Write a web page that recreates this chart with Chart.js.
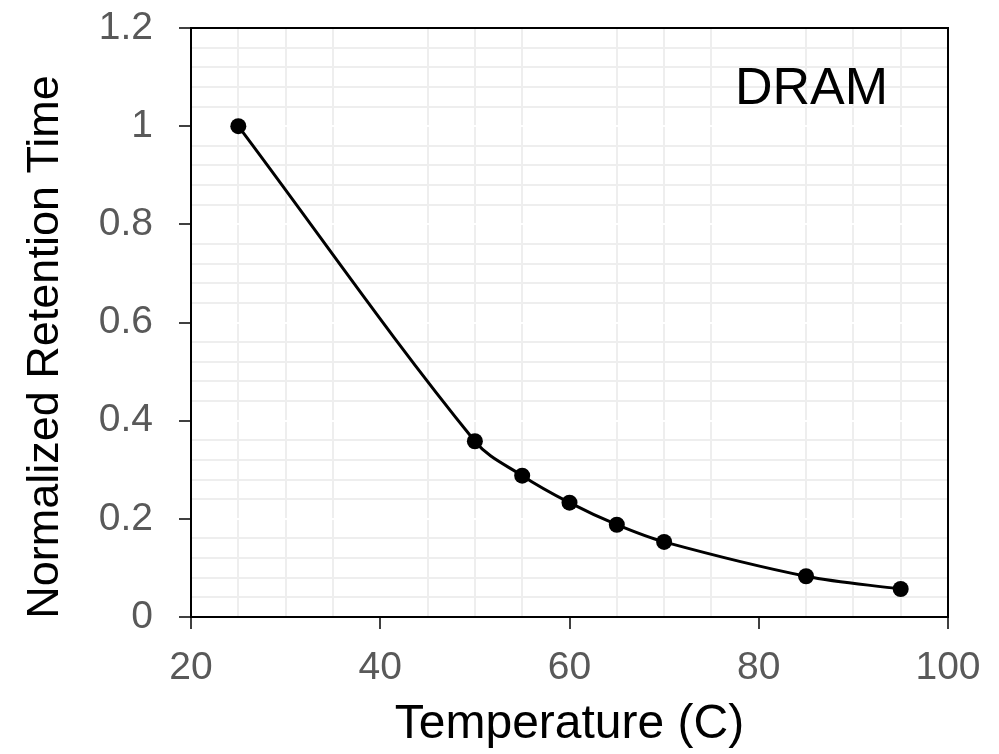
<!DOCTYPE html>
<html>
<head>
<meta charset="utf-8">
<script src="https://cdn.jsdelivr.net/npm/chart.js@4/dist/chart.umd.min.js"></script>
<style>
  html, body { margin: 0; padding: 0; background: #fff; }
  #wrap { width: 999px; height: 754px; position: relative; }
</style>
</head>
<body>
<div id="wrap"><canvas id="c"></canvas></div>
<script>
// DRAM retention time vs temperature
var temps = [25, 50, 55, 60, 65, 70, 85, 95];
var retention = [1.0, 0.358, 0.288, 0.233, 0.188, 0.153, 0.083, 0.057];
var xLabelTicks = [20, 40, 60, 80, 100];
var yLabelTicks = [0, 0.2, 0.4, 0.6, 0.8, 1, 1.2];
var xTitle = 'Temperature (C)';
var yTitle = 'Normalized Retention Time';
var noteText = 'DRAM';

var FONT = 'Arial, "Liberation Sans", sans-serif';

function isXMajor(v) { return xLabelTicks.indexOf(Math.round(v)) >= 0; }
function isYMajor(v) {
  var r = Math.round(v * 100);
  return yLabelTicks.some(function (t) { return Math.round(t * 100) === r; });
}

var points = temps.map(function (t, i) { return { x: t, y: retention[i] }; });

// frame, rotated y title and the DRAM note
var extrasPlugin = {
  id: 'extras',
  afterDatasetsDraw: function (chart) {
    var ctx = chart.ctx, a = chart.chartArea;
    ctx.save();
    ctx.strokeStyle = '#000';
    ctx.lineWidth = 2;
    ctx.beginPath();
    ctx.moveTo(a.left, a.top);
    ctx.lineTo(a.right, a.top);
    ctx.lineTo(a.right, a.bottom);
    ctx.stroke();

    ctx.fillStyle = '#000';
    ctx.font = '52px ' + FONT;
    ctx.textAlign = 'left';
    ctx.textBaseline = 'alphabetic';
    ctx.fillText(noteText, 735, 104);

    ctx.translate(58, 347);
    ctx.rotate(-Math.PI / 2);
    ctx.font = '45px ' + FONT;
    ctx.textAlign = 'center';
    ctx.fillText(yTitle, 0, 0);
    ctx.restore();
  }
};

new Chart(document.getElementById('c'), {
  type: 'line',
  data: {
    datasets: [{
      data: points,
      borderColor: '#000',
      backgroundColor: '#000',
      borderWidth: 3,
      pointRadius: 8,
      pointHoverRadius: 8,
      pointBackgroundColor: '#000',
      pointBorderWidth: 0,
      tension: 0.35,
      fill: false
    }]
  },
  options: {
    responsive: true,
    maintainAspectRatio: false,
    animation: false,
    layout: { padding: { top: 28, right: 51, left: 0, bottom: 0 } },
    plugins: { legend: { display: false }, tooltip: { enabled: false } },
    scales: {
      x: {
        type: 'linear',
        min: 20, max: 100,
        afterFit: function (s) {
          s.height = 137;
          s.paddingLeft = 0;
          s.paddingRight = 0;
        },
        border: { color: '#000', width: 2 },
        grid: {
          color: function (c) { return isXMajor(c.tick.value) ? '#ffffff' : '#eeeeee'; },
          lineWidth: 2,
          tickLength: 12,
          tickColor: function (c) { return isXMajor(c.tick.value) ? '#000' : 'rgba(0,0,0,0)'; },
          tickWidth: 1.5
        },
        ticks: {
          stepSize: 5,
          autoSkip: false,
          maxTicksLimit: 1000,
          maxRotation: 0,
          padding: 16,
          color: '#595959',
          font: { family: FONT, size: 39 },
          callback: function (v) { return isXMajor(v) ? String(Math.round(v)) : ''; }
        },
        title: {
          display: true,
          text: xTitle,
          color: '#000',
          font: { family: FONT, size: 48 },
          padding: { top: 0, bottom: 0 }
        }
      },
      y: {
        type: 'linear',
        min: 0, max: 1.2,
        afterFit: function (s) {
          s.width = 191;
          s.paddingTop = 0;
          s.paddingBottom = 0;
        },
        border: { color: '#000', width: 2 },
        grid: {
          color: function (c) { return isYMajor(c.tick.value) ? '#ffffff' : '#eeeeee'; },
          lineWidth: 2,
          tickLength: 12,
          tickColor: function (c) { return isYMajor(c.tick.value) ? '#000' : 'rgba(0,0,0,0)'; },
          tickWidth: 1.5
        },
        ticks: {
          stepSize: 0.04,
          autoSkip: false,
          maxTicksLimit: 1000,
          padding: 26,
          color: '#595959',
          font: { family: FONT, size: 39 },
          callback: function (v) {
            return isYMajor(v) ? String(Math.round(v * 10) / 10) : '';
          }
        }
      }
    }
  },
  plugins: [extrasPlugin]
});
</script>
</body>
</html>
